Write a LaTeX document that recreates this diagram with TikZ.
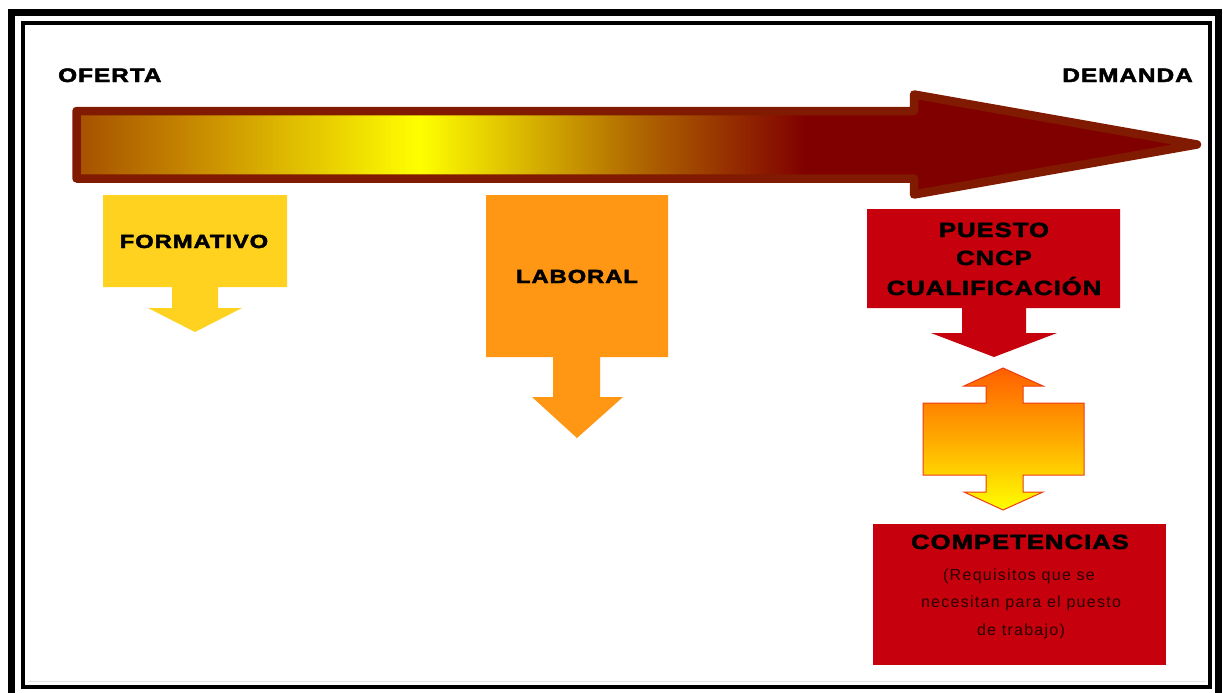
\documentclass[tikz,border=0pt]{standalone}
\usepackage{fontspec}
\usepackage{graphicx}
\setmainfont{Liberation Sans}
\newfontfamily\labfont[LetterSpace=4, BoldFeatures={FakeBold=2.2}]{Liberation Sans}
\newfontfamily\smfont[LetterSpace=8]{Liberation Sans}
\newcommand{\wid}[1]{\scalebox{1.25}[1]{#1}}
\definecolor{formcol}{RGB}{255,210,32}
\definecolor{labcol}{RGB}{255,150,20}
\definecolor{redbox}{RGB}{198,0,12}
\definecolor{arrowline}{RGB}{128,26,0}
\definecolor{cbrown}{RGB}{166,80,0}
\definecolor{cgold}{RGB}{200,140,0}
\definecolor{cmid}{RGB}{176,104,0}
\definecolor{dred}{RGB}{128,0,0}
\definecolor{dtop}{RGB}{255,95,0}
\definecolor{dmid}{RGB}{255,170,0}
\definecolor{dline}{RGB}{235,60,20}
\definecolor{smalltext}{RGB}{40,0,0}
\pgfdeclarehorizontalshading{bigarrowshade}{100bp}{color(0bp)=(cbrown); color(25bp)=(cbrown); color(30.5bp)=(cgold); color(40.3bp)=(yellow); color(50bp)=(cmid); color(57.5bp)=(dred); color(75bp)=(dred); color(100bp)=(dred)}
\begin{document}
\begin{tikzpicture}[x=1pt,y=-1pt,
  lbl/.style={inner sep=0pt, text=black, anchor=base},
  small/.style={font=\smfont\fontsize{16}{18}\selectfont, inner sep=0pt, text=smalltext, anchor=base}]
\useasboundingbox (0,0) rectangle (1223,693);
\fill[white] (0,0) rectangle (1223,693);
% frames
\draw[line width=7] (11.5,12.5) rectangle (1218,700);
\draw[line width=4] (23,23.5) rectangle (1210,687);
\draw[black!10, line width=1] (28,681) -- (1206,681);
% big arrow
\draw[arrowline, line width=8.5, line join=round, shading=bigarrowshade]
  (76.5,111) -- (914,111) -- (914,94.5) -- (1197,144.5) -- (914,194.5) -- (914,178.5) -- (76.5,178.5) -- cycle;
\node[lbl, anchor=base west, font=\labfont\bfseries\fontsize{19.5}{22}\selectfont] (oferta) at (58,82) {\wid{OFERTA}};
\node[lbl, anchor=base east, font=\labfont\bfseries\fontsize{19.5}{22}\selectfont] (demanda) at (1193,82) {\wid{DEMANDA}};
% formativo
\fill[formcol] (103,195) -- (287,195) -- (287,287) -- (218,287) -- (218,308) -- (242,308) -- (195,332) -- (148,308) -- (172,308) -- (172,287) -- (103,287) -- cycle;
\node[lbl, font=\labfont\bfseries\fontsize{19}{22}\selectfont] (formativo) at (194,248) {\wid{FORMATIVO}};
% laboral
\fill[labcol] (486,195) -- (668,195) -- (668,357) -- (600,357) -- (600,397) -- (623,397) -- (577,438) -- (532,397) -- (553,397) -- (553,357) -- (486,357) -- cycle;
\node[lbl, font=\labfont\bfseries\fontsize{19}{22}\selectfont] (laboral) at (577,283) {\wid{LABORAL}};
% puesto
\fill[redbox] (867,209) -- (1120,209) -- (1120,308) -- (1026,308) -- (1026,333) -- (1057,333) -- (994,357) -- (931,333) -- (962,333) -- (962,308) -- (867,308) -- cycle;
\node[lbl, font=\labfont\bfseries\fontsize{20.5}{24}\selectfont] (puesto) at (994,237) {\wid{PUESTO}};
\node[lbl, font=\labfont\bfseries\fontsize{20.5}{24}\selectfont] (cncp) at (994,265) {\wid{CNCP}};
\node[lbl, font=\labfont\bfseries\fontsize{20.5}{24}\selectfont] (cualif) at (994,295) {\wid{CUALIFICACIÓN}};
% double arrow
\draw[dline, line width=1, top color=dtop, bottom color=yellow, middle color=dmid]
  (1003,368) -- (1043,386) -- (1023,386) -- (1023,403) -- (1084,403) -- (1084,475) -- (1023,475) -- (1023,492) -- (1043,492) -- (1003,510) -- (964,492) -- (986,492) -- (986,475) -- (923,475) -- (923,403) -- (986,403) -- (986,386) -- (964,386) -- cycle;
% competencias
\fill[redbox] (873,524) rectangle (1166,665);
\node[lbl, font=\labfont\bfseries\fontsize{20.5}{24}\selectfont] (comp) at (1020,549) {\wid{COMPETENCIAS}};
\node[small] (req1) at (1019,580) {(Requisitos que se};
\node[small] (req2) at (1021,607) {necesitan para el puesto};
\node[small] (req3) at (1021,635) {de trabajo)};
\end{tikzpicture}
\end{document}
